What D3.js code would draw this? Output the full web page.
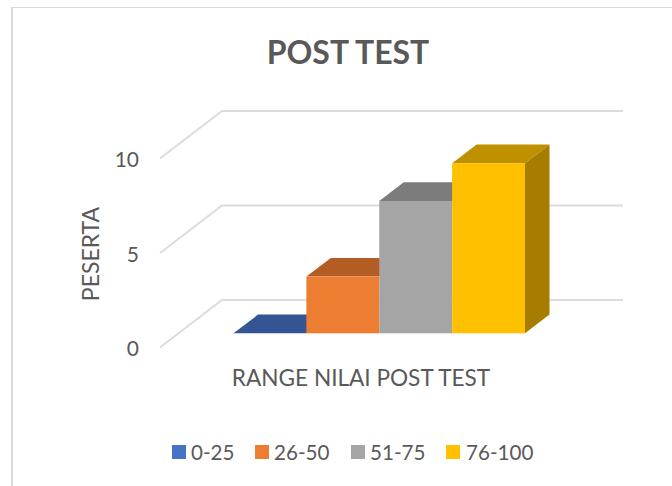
<!DOCTYPE html>
<html lang="en">
<head>
<meta charset="utf-8">
<script src="https://d3js.org/d3.v7.min.js"></script>
<style>
html, body { margin: 0; padding: 0; background: #fff; }
svg { display: block; }
text { font-family: Lato, "Open Sans", sans-serif; fill: #595959; }
</style>
</head>
<body>
<div id="chart"></div>
<script>
// data
const categories = ["0-25", "26-50", "51-75", "76-100"];
const values = [0, 3, 7, 9];
const yTicks = [0, 5, 10];
const frontColors = ["#4472C4", "#ED7D31", "#A5A5A5", "#FFC000"];
const topColors = ["#335593", "#B35D25", "#7C7C7C", "#BF9000"];
const sideColors = ["#294674", "#8E4A1C", "#636363", "#A67D00"];

const width = 672, height = 486;

const svg = d3.select("#chart").append("svg")
    .attr("width", width)
    .attr("height", height);

// chart frame, only top and left show in the crop
svg.append("rect").attr("x", 11).attr("y", 7).attr("width", 661).attr("height", 1).attr("fill", "#d9d9d9");
svg.append("rect").attr("x", 11).attr("y", 7).attr("width", 2).attr("height", 479).attr("fill", "#d9d9d9");

// scales
const y = d3.scaleLinear().domain([0, 10]).range([347.5, 158.5]);
const x = d3.scaleBand().domain(categories).range([233.5, 525]);

// fake 3d offsets
const wallDx = 62, wallDy = -47.5;      // floor depth
const barBase = -14.2;                  // bars sit a bit in from the front edge
const barDx = 24.5, barDy = -18.7;      // bar depth
const wallRight = 623;

// gridlines: floor diagonal + back wall line
svg.append("g").selectAll("path")
    .data(yTicks)
    .join("path")
    .attr("fill", "none")
    .attr("stroke", "#dcdcdc")
    .attr("stroke-width", 2)
    .attr("d", function(d) {
        const x0 = 160, y0 = y(d);
        return "M" + x0 + "," + y0 + "L" + (x0 + wallDx) + "," + (y0 + wallDy) + "L" + wallRight + "," + (y0 + wallDy);
    });

// y axis, labels only
const yAxis = svg.append("g")
    .attr("transform", "translate(146,1.5)")
    .call(d3.axisLeft(y).tickValues(yTicks).tickSize(0).tickPadding(7));
yAxis.select(".domain").remove();
yAxis.selectAll("text")
    .style("font-family", "Lato, 'Open Sans', sans-serif")
    .style("font-size", "21px")
    .attr("fill", "#595959");

// bars
const bars = svg.append("g").selectAll("g")
    .data(categories)
    .join("g");

function poly(points) {
    return "M" + points.map(function(p) { return p.join(","); }).join("L") + "Z";
}

// top face
bars.append("path")
    .attr("fill", function(d, i) { return topColors[i]; })
    .attr("d", function(d, i) {
        const x0 = x(d), x1 = x0 + x.bandwidth(), t = y(values[i]) + barBase;
        return poly([[x0, t], [x1, t], [x1 + barDx, t + barDy], [x0 + barDx, t + barDy]]);
    });

// side face, only the last bar shows it
bars.filter(function(d, i) { return i === categories.length - 1; })
    .append("path")
    .attr("fill", function(d) { return sideColors[categories.indexOf(d)]; })
    .attr("d", function(d) {
        const i = categories.indexOf(d);
        const x1 = x(d) + x.bandwidth(), t = y(values[i]) + barBase, b = y(0) + barBase;
        return poly([[x1, t], [x1 + barDx, t + barDy], [x1 + barDx, b + barDy], [x1, b]]);
    });

// front face
bars.append("rect")
    .attr("x", function(d) { return x(d); })
    .attr("width", x.bandwidth())
    .attr("y", function(d, i) { return y(values[i]) + barBase; })
    .attr("height", function(d, i) { return y(0) - y(values[i]); })
    .attr("fill", function(d, i) { return frontColors[i]; });

// titles
svg.append("text")
    .attr("x", 348).attr("y", 64)
    .attr("text-anchor", "middle")
    .style("font-size", "32px")
    .style("font-weight", "700")
    .text("POST TEST");

svg.append("text")
    .attr("x", 361).attr("y", 386)
    .attr("text-anchor", "middle")
    .style("font-size", "22.6px")
    .text("RANGE NILAI POST TEST");

svg.append("text")
    .attr("transform", "translate(99,254) rotate(-90)")
    .attr("text-anchor", "middle")
    .style("font-size", "23px")
    .text("PESERTA");

// legend
const legendX = [172, 255, 351, 446];
const legend = svg.append("g").selectAll("g")
    .data(categories)
    .join("g")
    .attr("transform", function(d, i) { return "translate(" + legendX[i] + ",445)"; });
legend.append("rect")
    .attr("width", 14)
    .attr("height", 14)
    .attr("fill", function(d, i) { return frontColors[i]; });
legend.append("text")
    .attr("x", function(d, i) { return i === 3 ? 20 : 19; }).attr("y", 14.5)
    .style("font-size", "20.6px")
    .text(function(d) { return d; });
</script>
</body>
</html>
